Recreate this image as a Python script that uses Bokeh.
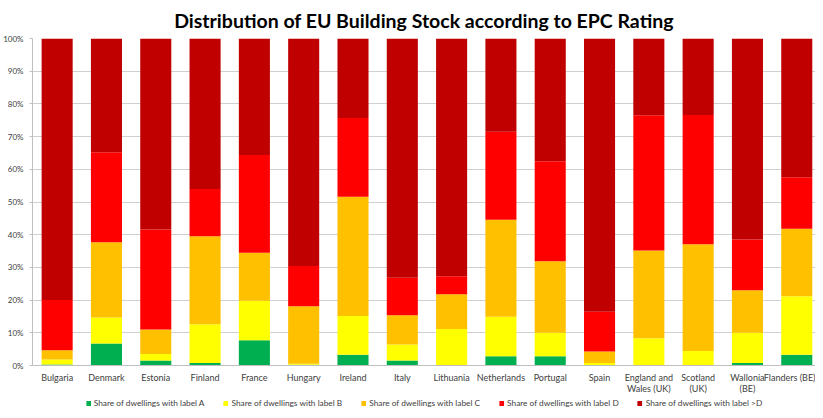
from bokeh.plotting import figure
from bokeh.models import (Range1d, FixedTicker, NumeralTickFormatter, Legend, LegendItem,
                          ColumnDataSource, LinearAxis)
from bokeh.layouts import column
from bokeh.embed import file_html
from bokeh.resources import INLINE

countries_line1 = ["Bulgaria", "Denmark", "Estonia", "Finland", "France", "Hungary", "Ireland",
                   "Italy", "Lithuania", "Netherlands", "Portugal", "Spain",
                   "England and", "Scotland", "Wallonia", "Flanders (BE)"]
countries_line2 = ["", "", "", "", "", "", "", "", "", "", "", "",
                   "Wales (UK)", "(UK)", "(BE)", ""]
label_a = [0.3, 6.7, 1.5, 0.8, 7.7, 0.2, 3.3, 1.5, 0.0, 2.8, 2.8, 0.0, 0.0, 0.0, 0.8, 3.3]
label_b = [1.5, 8.0, 2.0, 11.8, 12.1, 0.3, 11.8, 4.9, 11.2, 12.1, 7.2, 0.8, 8.3, 4.4, 9.2, 17.9]
label_c = [2.9, 23.0, 7.5, 26.9, 14.7, 17.6, 36.5, 9.0, 10.6, 29.7, 21.9, 3.5, 26.9, 32.7, 13.0, 20.6]
label_d = [15.3, 27.5, 30.6, 14.5, 29.9, 12.3, 24.1, 11.4, 5.5, 26.9, 30.6, 12.1, 41.3, 39.5, 15.5, 15.8]
label_worse = [80.0, 34.8, 58.4, 46.0, 35.6, 69.6, 24.3, 73.2, 72.7, 28.5, 37.5, 83.6, 23.5, 23.4, 61.5, 42.4]
series_names = ["Share of dwellings with label A", "Share of dwellings with label B",
                "Share of dwellings with label C", "Share of dwellings with label D",
                "Share of dwellings with label >D"]
y_ticks = [0, 0.1, 0.2, 0.3, 0.4, 0.5, 0.6, 0.7, 0.8, 0.9, 1.0]

colors = ["#00b050", "#ffff00", "#ffc000", "#ff0000", "#c00000"]
keys = ["a", "b", "c", "d", "w"]
xs = list(range(len(countries_line1)))
src = ColumnDataSource(dict(
    x=xs,
    a=[v / 100 for v in label_a],
    b=[v / 100 for v in label_b],
    c=[v / 100 for v in label_c],
    d=[v / 100 for v in label_d],
    w=[v / 100 for v in label_worse],
))

FONT = "Lato"
p = figure(width=815, height=396, output_backend="svg", toolbar_location=None,
           x_range=Range1d(-0.5, 15.38), y_range=Range1d(0, 1),
           min_border_left=32, min_border_right=0, min_border_top=2, min_border_bottom=0)
p.title.text = "Distribution of EU Building Stock according to EPC Rating"
p.title.align = "center"
p.title.text_font = FONT
p.title.text_font_size = "19.5px"
p.title.text_font_style = "bold"
p.title.text_color = "#000000"
p.title.standoff = 13
p.outline_line_color = None

renderers = p.vbar_stack(keys, x="x", width=0.63, color=colors, line_color=None, source=src)

p.xaxis.ticker = FixedTicker(ticks=xs)
p.xaxis.major_label_overrides = {i: c for i, c in enumerate(countries_line1)}
p.xaxis.major_tick_line_color = None
p.xaxis.major_tick_out = 0
p.xaxis.major_tick_in = 0
p.xaxis.minor_tick_line_color = None
p.xaxis.minor_tick_out = 0
p.xaxis.axis_line_color = "#bfbfbf"
p.xaxis.major_label_text_font = FONT
p.xaxis.major_label_text_font_size = "9px"
p.xaxis.major_label_text_color = "#404040"
p.xaxis.major_label_standoff = 6

ax2 = LinearAxis(ticker=FixedTicker(ticks=xs),
                 major_label_overrides={i: c for i, c in enumerate(countries_line2)},
                 major_tick_line_color=None, minor_tick_line_color=None,
                 major_tick_out=0, major_tick_in=0, minor_tick_out=0,
                 axis_line_color=None, major_label_text_font=FONT,
                 major_label_text_font_size="9px", major_label_text_color="#404040",
                 major_label_standoff=-3)
p.add_layout(ax2, "below")

p.yaxis.ticker = FixedTicker(ticks=y_ticks)
p.yaxis.formatter = NumeralTickFormatter(format="0%")
p.yaxis.major_tick_line_color = "#bfbfbf"
p.yaxis.major_tick_out = 3
p.yaxis.major_tick_in = 0
p.yaxis.minor_tick_line_color = None
p.yaxis.axis_line_color = "#bfbfbf"
p.yaxis.major_label_text_font = FONT
p.yaxis.major_label_text_font_size = "8px"
p.yaxis.major_label_text_color = "#404040"
p.yaxis.major_label_standoff = 6

p.xgrid.grid_line_color = None
p.ygrid.grid_line_color = "#d0d0d0"
p.ygrid.ticker = FixedTicker(ticks=y_ticks)

# legend in its own strip below the chart; its bars use the same data but lie outside the view
lg = figure(width=815, height=14, output_backend="svg", toolbar_location=None,
            x_range=Range1d(100, 101), y_range=Range1d(100, 101),
            min_border_left=14, min_border_right=0, min_border_top=0, min_border_bottom=0)
lg.axis.visible = False
lg.grid.visible = False
lg.outline_line_color = None
lg_renderers = lg.vbar_stack(keys, x="x", width=0.63, color=colors, line_color=None, source=src)
items = [LegendItem(label=n, renderers=[r]) for n, r in zip(series_names, lg_renderers)]
legend = Legend(items=items, orientation="horizontal", location="center",
                label_text_font=FONT, label_text_font_size="8.3px", label_text_color="#404040",
                glyph_width=6, glyph_height=6, label_standoff=3, label_height=12,
                spacing=18, padding=0, margin=0, border_line_color=None,
                background_fill_alpha=0)
lg.add_layout(legend)

layout = column(p, lg, spacing=0)
open("out.html", "w").write(file_html(layout, INLINE))
